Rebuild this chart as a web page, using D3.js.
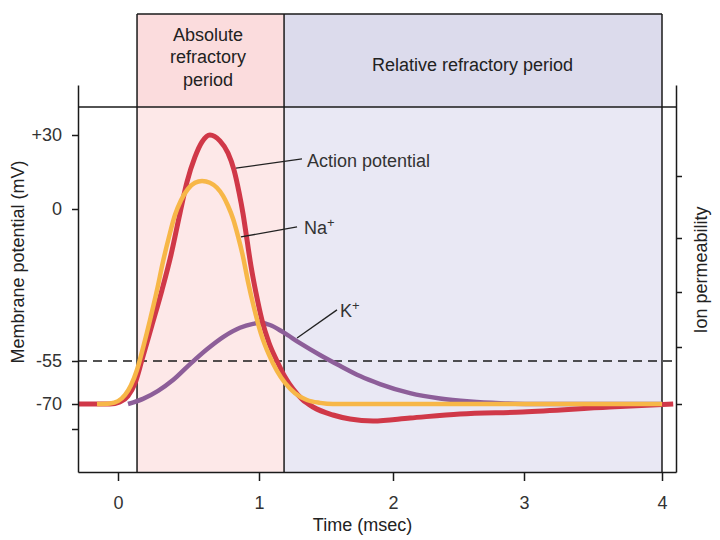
<!DOCTYPE html>
<html>
<head>
<meta charset="utf-8">
<script src="https://cdn.jsdelivr.net/npm/d3@7"></script>
<style>
  body { margin: 0; background: #fff; }
  svg text { font-family: "Liberation Sans", Arial, Helvetica, sans-serif; }
</style>
</head>
<body>
<script>
// time in msec, membrane potential in mV, permeability in tick units
var timeTicks = [0, 1, 2, 3, 4];
var mvTicks = [30, 0, -55, -70, -80];
var mvLabels = ["+30", "0", "-55", "-70", ""];
var permTicks = [0, 1, 2, 3, 4];
var threshold = -55;

var periodNames = [["Absolute", "refractory", "period"], ["Relative refractory period"]];
var periodStart = [0.135, 1.187];
var periodEnd = [1.187, 4];

var apTime = [-0.28, -0.057, 0.014, 0.071, 0.121, 0.17, 0.241, 0.312, 0.376, 0.44, 0.489, 0.546, 0.596, 0.652,
  0.723, 0.78, 0.823, 0.858, 0.887, 0.915, 0.943, 0.979, 1.022, 1.075, 1.134, 1.194, 1.254, 1.321, 1.403,
  1.552, 1.679, 1.851, 2.13, 2.511, 2.99, 3.62, 4.08];
var apMv = [-70, -70, -69.3, -67.2, -62.7, -54.6, -42, -29.3, -16.6, -1.4, 10.9, 21.1, 27.2, 30,
  27.6, 22.7, 15.8, 6.9, -1.8, -11.2, -20.6, -30.4, -40.2, -48.5, -55, -60.6, -64.8, -68.3, -71.2,
  -74.4, -76, -76.8, -75.6, -74, -73.2, -71.2, -70];

var naTime = [-0.149, -0.057, 0, 0.05, 0.092, 0.135, 0.177, 0.227, 0.277, 0.319, 0.362, 0.404, 0.447, 0.496,
  0.546, 0.596, 0.652, 0.702, 0.745, 0.78, 0.816, 0.851, 0.887, 0.922, 0.965, 1.015, 1.075, 1.134, 1.194,
  1.269, 1.358, 1.455, 1.552, 4.0];
var naPerm = [0, 0.01, 0.05, 0.16, 0.33, 0.6, 0.98, 1.49, 2.04, 2.56, 3.02, 3.37, 3.61, 3.79,
  3.89, 3.92, 3.89, 3.81, 3.68, 3.52, 3.31, 3.03, 2.65, 2.19, 1.71, 1.24, 0.86, 0.58, 0.37,
  0.19, 0.07, 0.02, 0, 0];

var kTime = [0.071, 0.177, 0.284, 0.39, 0.511, 0.631, 0.745, 0.865, 0.957, 1.007, 1.082, 1.179, 1.306,
  1.455, 1.604, 1.754, 1.903, 2.13, 2.359, 2.588, 2.817, 3.043, 4.0];
var kPerm = [0, 0.09, 0.23, 0.42, 0.7, 0.96, 1.18, 1.35, 1.42, 1.44, 1.4, 1.27, 1.07,
  0.86, 0.67, 0.49, 0.35, 0.19, 0.096, 0.044, 0.014, 0, 0];

var W = 720, H = 540;
var headTop = 14, plotTop = 107, axisTop = 85, plotBottom = 472;

var svg = d3.select("body").append("svg")
  .attr("width", W)
  .attr("height", H);

// the drawing is schematic, so scales are piecewise
var x = d3.scaleLinear()
  .domain([-0.284, 0, 1, 2, 3, 4, 4.1])
  .range([78, 118, 259, 393, 524, 662, 676]);

var y = d3.scaleLinear()
  .domain([-97.2, -80, -70, -55, 0, 30, 50.3])
  .range([plotBottom, 429, 404, 361, 209, 135, axisTop]);

var p = d3.scaleLinear()
  .domain([-1.19, 0, 1, 2, 3, 4, 5.47])
  .range([plotBottom, 404, 347, 292, 238, 176, axisTop]);

var headFill = ["#fbdcdd", "#dcdbec"];
var bodyFill = ["#fde8e8", "#e9e8f4"];

// period shading
var periods = svg.append("g");
periodStart.forEach(function(s, i) {
  periods.append("rect")
    .attr("x", x(s)).attr("y", headTop)
    .attr("width", x(periodEnd[i]) - x(s)).attr("height", plotTop - headTop)
    .attr("fill", headFill[i]);
  periods.append("rect")
    .attr("x", x(s)).attr("y", plotTop)
    .attr("width", x(periodEnd[i]) - x(s)).attr("height", plotBottom - plotTop)
    .attr("fill", bodyFill[i]);
  var lines = periodNames[i];
  var cx = i == 0 ? 208 : 472.5;
  var firstBase = i == 0 ? 40.7 : 70.7;
  var t = periods.append("text")
    .attr("text-anchor", "middle")
    .attr("font-size", 18)
    .attr("fill", "#222");
  lines.forEach(function(l, j) {
    t.append("tspan").attr("x", cx).attr("y", firstBase + j * 22.4).text(l);
  });
});

var frame = svg.append("g").attr("stroke", "#1a1a1a").attr("stroke-width", 1.5).attr("fill", "none");
frame.append("line").attr("x1", x(periodStart[0])).attr("x2", x(4)).attr("y1", headTop).attr("y2", headTop);
frame.append("line").attr("x1", x.range()[0]).attr("x2", x.range()[6]).attr("y1", plotTop).attr("y2", plotTop);
[periodStart[0], periodStart[1], 4].forEach(function(t) {
  frame.append("line").attr("x1", x(t)).attr("x2", x(t)).attr("y1", headTop).attr("y2", plotBottom);
});

// threshold
svg.append("line")
  .attr("x1", x.range()[0]).attr("x2", x.range()[6])
  .attr("y1", y(threshold)).attr("y2", y(threshold))
  .attr("stroke", "#1a1a1a").attr("stroke-width", 1.5)
  .attr("stroke-dasharray", "9,6");

// curves
var curveMv = d3.line().x(function(d) { return x(d[0]); }).y(function(d) { return y(d[1]); }).curve(d3.curveMonotoneX);
var curvePerm = d3.line().x(function(d) { return x(d[0]); }).y(function(d) { return p(d[1]); }).curve(d3.curveMonotoneX);

svg.append("path")
  .datum(d3.zip(kTime, kPerm))
  .attr("d", curvePerm)
  .attr("fill", "none").attr("stroke", "#8d5e99").attr("stroke-width", 4.5);

svg.append("path")
  .datum(d3.zip(apTime, apMv))
  .attr("d", curveMv)
  .attr("fill", "none").attr("stroke", "#d03848").attr("stroke-width", 5);

svg.append("path")
  .datum(d3.zip(naTime, naPerm))
  .attr("d", curvePerm)
  .attr("fill", "none").attr("stroke", "#f7b748").attr("stroke-width", 4.5);

// axes
function styleAxis(g) {
  g.selectAll(".domain").attr("stroke", "#1a1a1a").attr("stroke-width", 1.5);
  g.selectAll(".tick line").attr("stroke", "#1a1a1a").attr("stroke-width", 1.5);
  g.selectAll(".tick text").attr("font-size", 18).attr("fill", "#333")
    .style("font-family", "'Liberation Sans', Arial, sans-serif");
}

svg.append("g")
  .attr("transform", "translate(" + x.range()[0] + ",0)")
  .call(d3.axisLeft(y).tickValues(mvTicks).tickSize(6).tickSizeOuter(0).tickPadding(10)
    .tickFormat(function(d, i) { return mvLabels[i]; }))
  .call(styleAxis);

svg.append("g")
  .attr("transform", "translate(" + x.range()[6] + ",0)")
  .call(d3.axisRight(p).tickValues(permTicks).tickSize(6).tickSizeOuter(0).tickFormat(""))
  .call(styleAxis);

svg.append("g")
  .attr("transform", "translate(0," + plotBottom + ")")
  .call(d3.axisBottom(x).tickValues(timeTicks).tickSize(9).tickSizeOuter(0).tickPadding(15)
    .tickFormat(d3.format("d")))
  .call(styleAxis);

// axis titles
svg.append("text")
  .attr("transform", "translate(24,262) rotate(-90)")
  .attr("text-anchor", "middle").attr("font-size", 18).attr("fill", "#222")
  .text("Membrane potential (mV)");

svg.append("text")
  .attr("transform", "translate(707,270) rotate(-90)")
  .attr("text-anchor", "middle").attr("font-size", 18).attr("fill", "#222")
  .text("Ion permeability");

svg.append("text")
  .attr("x", 362.5).attr("y", 531)
  .attr("text-anchor", "middle").attr("font-size", 18).attr("fill", "#222")
  .text("Time (msec)");

// labels with leader lines (time, mV)
var notes = [
  { name: "Action potential", sup: "", from: [0.837, 16.6], to: [1.321, 20.3], at: [1.358, 17.1] },
  { name: "Na", sup: "+", from: [0.872, -10.1], to: [1.284, -6.5], at: [1.336, -9.2] },
  { name: "K", sup: "+", from: [1.284, -46.7], to: [1.582, -36.5], at: [1.604, -39.1] }
];

notes.forEach(function(n) {
  svg.append("line")
    .attr("x1", x(n.from[0])).attr("y1", y(n.from[1]))
    .attr("x2", x(n.to[0])).attr("y2", y(n.to[1]))
    .attr("stroke", "#222").attr("stroke-width", 1.3);
  var t = svg.append("text")
    .attr("x", x(n.at[0])).attr("y", y(n.at[1]))
    .attr("font-size", 18).attr("fill", "#333")
    .text(n.name);
  if (n.sup) {
    t.append("tspan").attr("font-size", 13).attr("dy", -7).text(n.sup);
  }
});
</script>
</body>
</html>
